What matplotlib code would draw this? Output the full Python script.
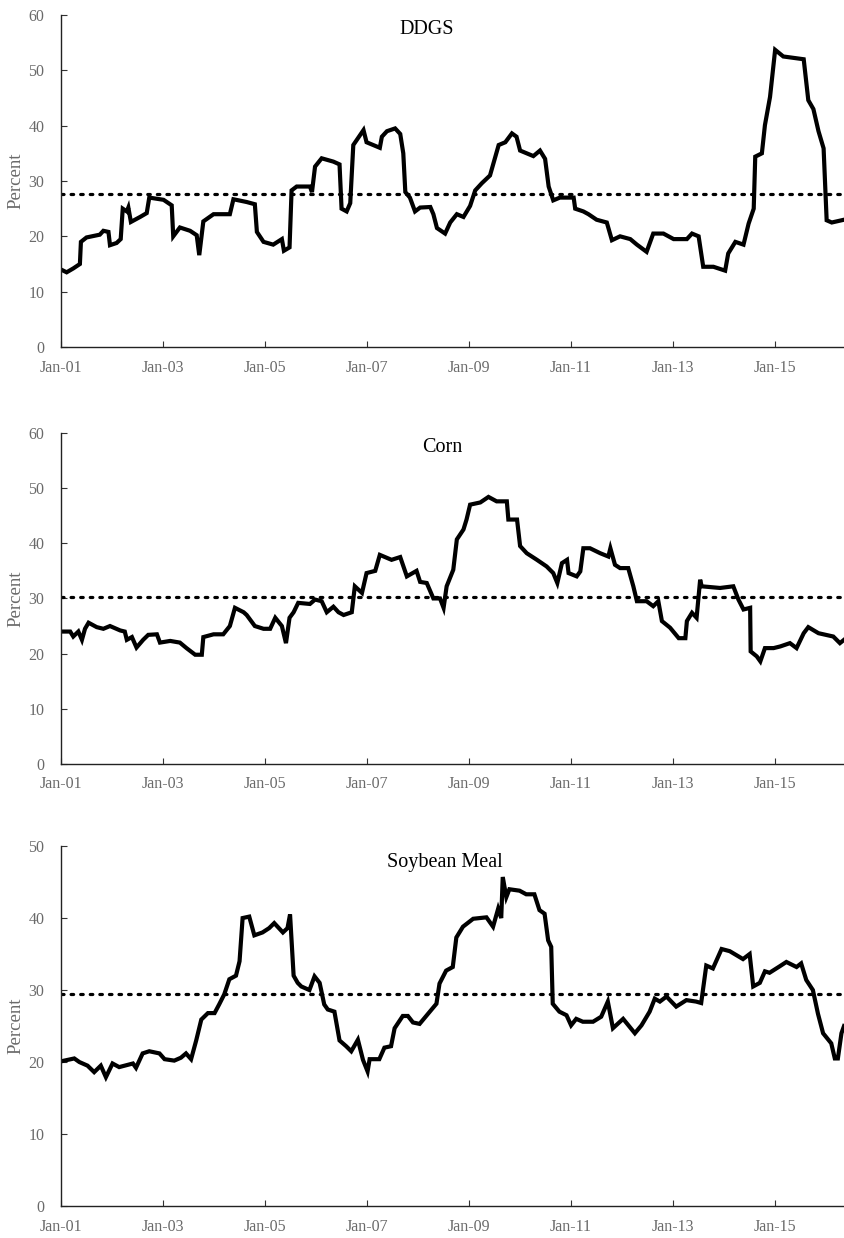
import matplotlib
matplotlib.use("Agg")
import matplotlib.pyplot as plt
import numpy as np

plt.rcParams['font.family'] = ['Liberation Serif', 'DejaVu Serif']

# decimal years / percent
ddgs_year = [2001.00, 2001.11, 2001.24, 2001.37, 2001.39, 2001.50, 2001.76, 2001.83, 2001.93, 2001.96,
             2002.09, 2002.17, 2002.21, 2002.29, 2002.32, 2002.37, 2002.55, 2002.68, 2002.73, 2003.01,
             2003.17, 2003.20, 2003.33, 2003.53, 2003.66, 2003.71, 2003.79, 2003.99, 2004.31, 2004.38,
             2004.64, 2004.80, 2004.84, 2004.97, 2005.16, 2005.33, 2005.37, 2005.48, 2005.52, 2005.62,
             2005.88, 2005.92, 2005.98, 2006.11, 2006.34, 2006.46, 2006.50, 2006.60, 2006.67, 2006.73,
             2006.93, 2006.99, 2007.25, 2007.29, 2007.39, 2007.55, 2007.65, 2007.71, 2007.75, 2007.84,
             2007.94, 2008.04, 2008.24, 2008.30, 2008.37, 2008.53, 2008.63, 2008.76, 2008.89, 2009.02,
             2009.12, 2009.25, 2009.41, 2009.58, 2009.71, 2009.84, 2009.93, 2010.00, 2010.13, 2010.26,
             2010.39, 2010.49, 2010.56, 2010.65, 2010.78, 2011.05, 2011.08, 2011.24, 2011.34, 2011.50,
             2011.70, 2011.80, 2011.96, 2012.16, 2012.29, 2012.48, 2012.61, 2012.81, 2013.01, 2013.27,
             2013.37, 2013.50, 2013.59, 2013.79, 2014.02, 2014.08, 2014.22, 2014.38, 2014.48, 2014.58,
             2014.61, 2014.74, 2014.80, 2014.90, 2015.00, 2015.16, 2015.56, 2015.65, 2015.75, 2015.85,
             2015.95, 2016.01, 2016.11, 2016.35]
ddgs_pct = [14.0, 13.5, 14.2, 15.0, 19.0, 19.8, 20.3, 21.0, 20.8, 18.4,
            18.8, 19.5, 25.0, 24.5, 25.2, 22.6, 23.5, 24.2, 27.0, 26.6,
            25.6, 20.0, 21.6, 21.0, 20.2, 16.6, 22.7, 24.0, 24.0, 26.7,
            26.2, 25.8, 20.8, 19.0, 18.5, 19.5, 17.4, 18.0, 28.3, 29.0,
            29.0, 28.0, 32.6, 34.1, 33.5, 33.0, 25.0, 24.5, 26.0, 36.5,
            39.2, 37.0, 36.0, 38.0, 39.0, 39.5, 38.5, 35.0, 28.0, 27.0,
            24.5, 25.2, 25.3, 24.0, 21.5, 20.5, 22.5, 24.0, 23.5, 25.5,
            28.3, 29.6, 31.0, 36.5, 37.0, 38.6, 38.0, 35.5, 35.0, 34.5,
            35.5, 34.0, 29.0, 26.5, 27.0, 27.0, 25.0, 24.5, 24.0, 23.0,
            22.5, 19.3, 20.0, 19.5, 18.5, 17.2, 20.5, 20.5, 19.5, 19.5,
            20.5, 20.0, 14.5, 14.5, 13.8, 16.9, 19.0, 18.5, 22.3, 25.0,
            34.4, 35.0, 40.1, 45.2, 53.7, 52.5, 52.0, 44.6, 43.0, 39.0,
            35.9, 22.9, 22.5, 23.0]

corn_year = [2001.00, 2001.18, 2001.24, 2001.34, 2001.41, 2001.47, 2001.54, 2001.70, 2001.83, 2001.96,
             2002.16, 2002.25, 2002.29, 2002.39, 2002.48, 2002.61, 2002.71, 2002.88, 2002.94, 2003.14,
             2003.33, 2003.46, 2003.63, 2003.76, 2003.79, 2003.99, 2004.18, 2004.31, 2004.41, 2004.58,
             2004.64, 2004.80, 2004.97, 2005.10, 2005.20, 2005.33, 2005.41, 2005.48, 2005.56, 2005.65,
             2005.88, 2005.98, 2006.11, 2006.21, 2006.34, 2006.44, 2006.54, 2006.70, 2006.76, 2006.90,
             2006.99, 2007.16, 2007.25, 2007.48, 2007.65, 2007.78, 2007.97, 2008.04, 2008.17, 2008.30,
             2008.43, 2008.50, 2008.56, 2008.69, 2008.76, 2008.89, 2008.95, 2009.02, 2009.22, 2009.38,
             2009.54, 2009.74, 2009.77, 2009.94, 2010.00, 2010.13, 2010.33, 2010.52, 2010.65, 2010.73,
             2010.82, 2010.92, 2010.95, 2011.11, 2011.18, 2011.24, 2011.37, 2011.57, 2011.73, 2011.77,
             2011.86, 2011.96, 2012.12, 2012.22, 2012.29, 2012.48, 2012.61, 2012.71, 2012.78, 2012.94,
             2013.11, 2013.24, 2013.27, 2013.37, 2013.46, 2013.53, 2013.56, 2013.92, 2014.18, 2014.28,
             2014.38, 2014.51, 2014.52, 2014.64, 2014.71, 2014.80, 2014.97, 2015.10, 2015.29, 2015.42,
             2015.56, 2015.65, 2015.85, 2016.14, 2016.27, 2016.35]
corn_pct = [24.0, 24.0, 23.1, 24.0, 22.5, 24.5, 25.6, 24.8, 24.5, 25.0,
            24.2, 24.0, 22.5, 23.0, 21.1, 22.5, 23.4, 23.5, 22.0, 22.3,
            22.0, 21.0, 19.8, 19.8, 23.0, 23.5, 23.5, 25.0, 28.3, 27.5,
            27.0, 25.0, 24.5, 24.5, 26.5, 25.0, 21.9, 26.5, 27.5, 29.2,
            29.0, 29.8, 29.5, 27.5, 28.5, 27.5, 27.0, 27.5, 32.2, 31.0,
            34.6, 35.0, 37.9, 37.0, 37.5, 34.0, 35.0, 33.0, 32.8, 30.0,
            30.0, 28.3, 32.2, 35.2, 40.7, 42.5, 44.3, 47.0, 47.4, 48.4,
            47.6, 47.6, 44.3, 44.3, 39.5, 38.2, 37.0, 35.8, 34.6, 32.8,
            36.4, 37.0, 34.6, 34.0, 34.9, 39.1, 39.1, 38.2, 37.6, 39.1,
            36.1, 35.5, 35.5, 32.2, 29.5, 29.5, 28.6, 29.5, 25.9, 24.7,
            22.8, 22.8, 25.9, 27.4, 26.5, 33.4, 32.2, 31.9, 32.2, 29.8,
            28.0, 28.3, 20.4, 19.5, 18.6, 21.0, 21.0, 21.3, 21.9, 21.0,
            23.7, 24.8, 23.7, 23.1, 21.9, 22.5]

soy_year = [2001.00, 2001.26, 2001.36, 2001.52, 2001.65, 2001.78, 2001.88, 2002.01, 2002.14, 2002.41,
            2002.47, 2002.60, 2002.73, 2002.93, 2003.03, 2003.22, 2003.35, 2003.45, 2003.55, 2003.65,
            2003.75, 2003.88, 2004.01, 2004.10, 2004.20, 2004.30, 2004.43, 2004.50, 2004.56, 2004.69,
            2004.79, 2004.95, 2005.08, 2005.18, 2005.35, 2005.44, 2005.49, 2005.56, 2005.64, 2005.71,
            2005.87, 2005.97, 2006.07, 2006.16, 2006.23, 2006.36, 2006.46, 2006.59, 2006.69, 2006.82,
            2006.92, 2007.01, 2007.05, 2007.24, 2007.34, 2007.47, 2007.54, 2007.70, 2007.80, 2007.90,
            2008.03, 2008.23, 2008.36, 2008.42, 2008.55, 2008.68, 2008.75, 2008.88, 2009.08, 2009.34,
            2009.47, 2009.57, 2009.63, 2009.66, 2009.73, 2009.79, 2009.99, 2010.12, 2010.28, 2010.38,
            2010.48, 2010.55, 2010.61, 2010.64, 2010.77, 2010.91, 2011.00, 2011.10, 2011.23, 2011.43,
            2011.59, 2011.72, 2011.82, 2012.02, 2012.25, 2012.38, 2012.54, 2012.64, 2012.74, 2012.87,
            2013.06, 2013.26, 2013.45, 2013.55, 2013.65, 2013.78, 2013.95, 2014.11, 2014.37, 2014.50,
            2014.57, 2014.70, 2014.80, 2014.89, 2015.09, 2015.22, 2015.42, 2015.51, 2015.61, 2015.74,
            2015.84, 2015.94, 2016.10, 2016.17, 2016.23, 2016.30, 2016.35]
soy_pct = [20.1, 20.5, 20.0, 19.5, 18.6, 19.5, 17.9, 19.8, 19.3, 19.8,
           19.2, 21.2, 21.5, 21.2, 20.4, 20.2, 20.6, 21.2, 20.4, 23.0,
           25.9, 26.8, 26.8, 28.0, 29.4, 31.5, 32.0, 34.0, 40.0, 40.2,
           37.6, 38.0, 38.6, 39.3, 38.0, 38.6, 40.5, 32.0, 31.0, 30.5,
           30.0, 31.9, 31.0, 28.0, 27.3, 27.0, 23.0, 22.2, 21.5, 23.1,
           20.3, 18.7, 20.4, 20.4, 22.0, 22.2, 24.7, 26.4, 26.4, 25.5,
           25.3, 27.0, 28.1, 30.9, 32.7, 33.2, 37.3, 38.8, 39.9, 40.1,
           38.8, 41.3, 40.0, 45.7, 42.9, 44.0, 43.8, 43.3, 43.3, 41.1,
           40.6, 36.9, 36.0, 28.1, 27.0, 26.5, 25.1, 26.0, 25.6, 25.6,
           26.3, 28.4, 24.7, 26.0, 24.0, 25.1, 27.0, 28.8, 28.4, 29.1,
           27.7, 28.6, 28.4, 28.2, 33.4, 33.0, 35.7, 35.4, 34.3, 35.0,
           30.5, 31.0, 32.6, 32.4, 33.3, 33.9, 33.2, 33.7, 31.4, 30.0,
           26.7, 24.0, 22.6, 20.5, 20.5, 24.0, 25.0]

titles = ['DDGS', 'Corn', 'Soybean Meal']
means = [27.7, 30.2, 29.4]
ytops = [60, 60, 50]
tick_years = [2001, 2003, 2005, 2007, 2009, 2011, 2013, 2015]
tick_labels = ['Jan-01', 'Jan-03', 'Jan-05', 'Jan-07', 'Jan-09', 'Jan-11', 'Jan-13', 'Jan-15']

series = [(ddgs_year, ddgs_pct), (corn_year, corn_pct), (soy_year, soy_pct)]
# axes boxes in figure fractions
boxes = [[0.0723, 0.7197, 0.9277, 0.2682],
         [0.0723, 0.3829, 0.9277, 0.2674],
         [0.0723, 0.0258, 0.9277, 0.2908]]
title_x = [0.467, 0.487, 0.490]

gray = '#6a6a6a'
fig = plt.figure(figsize=(8.44, 12.38), dpi=100)
for i in range(3):
    ax = fig.add_axes(boxes[i])
    x, y = series[i]
    ax.plot(x, y, color='black', lw=3.0, solid_joinstyle='miter')
    ax.axhline(means[i], color='black', lw=2.3, linestyle=(0, (0.8, 2.2)), dash_capstyle='round')
    ax.set_xlim(2001, 2016.35)
    ax.set_ylim(0, ytops[i])
    ax.set_yticks(np.arange(0, ytops[i] + 1, 10))
    ax.set_xticks(tick_years)
    ax.set_xticklabels(tick_labels)
    ax.tick_params(axis='both', direction='in', length=4, width=0.8, color='#333333',
                   labelsize=11.5, labelcolor=gray)
    ax.tick_params(axis='y', pad=12)
    ax.tick_params(axis='x', pad=9)
    for s in ['top', 'right']:
        ax.spines[s].set_visible(False)
    for s in ['left', 'bottom']:
        ax.spines[s].set_color('#222222')
        ax.spines[s].set_linewidth(1.0)
    ax.set_ylabel('Percent', fontsize=13.5, color=gray, labelpad=3)
    ax.text(title_x[i], 0.955, titles[i], transform=ax.transAxes, ha='center', va='center',
            fontsize=14.5, color='black')

fig.savefig('out.png', dpi=100)
